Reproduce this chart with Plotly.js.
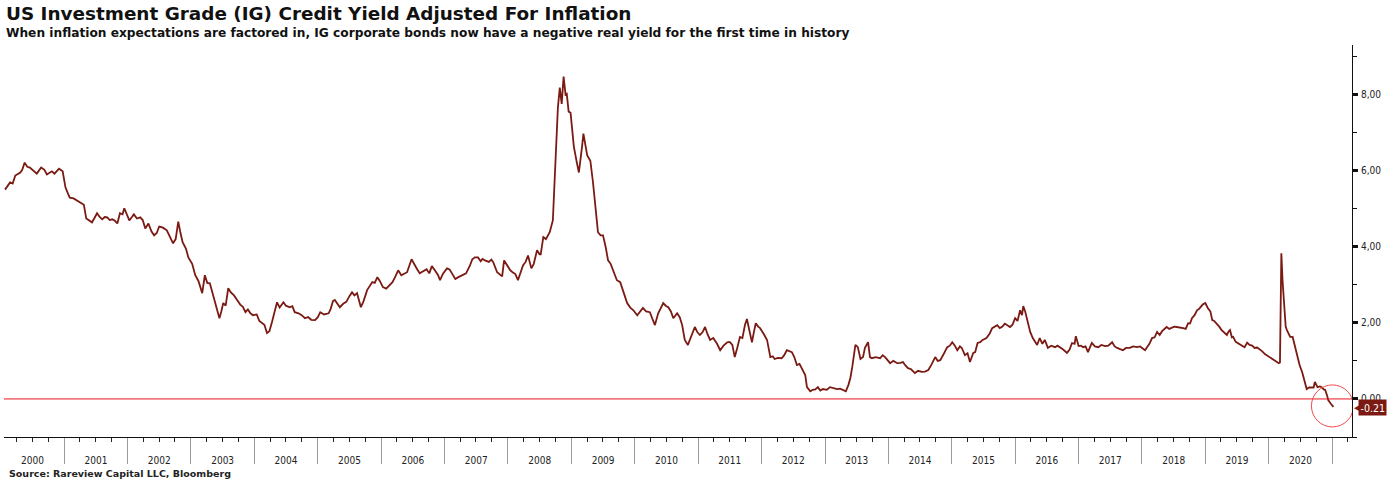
<!DOCTYPE html>
<html>
<head>
<meta charset="utf-8">
<script src="https://cdn.plot.ly/plotly-3.0.1.min.js"></script>
<style>
  html, body { margin: 0; padding: 0; background: #fff; }
  #chart { width: 1397px; height: 481px; }
</style>
</head>
<body>
<div id="chart"></div>
<script>
// weekly-ish readings, date as decimal year
var years = [
  2000.07,2000.15,2000.19,2000.23,2000.31,2000.34,2000.38,2000.42,2000.46,2000.52,2000.57,2000.64,2000.69,2000.73,2000.81,2000.85,2000.92,2000.98,
  2001.02,2001.06,2001.09,2001.15,2001.2,2001.28,2001.31,2001.35,2001.4,2001.44,2001.48,2001.52,2001.56,2001.6,2001.64,2001.68,2001.72,2001.76,2001.8,2001.84,2001.88,2001.92,2001.95,2001.99,
  2002.03,2002.07,2002.1,2002.15,2002.2,2002.24,2002.28,2002.33,2002.38,2002.42,2002.46,2002.5,2002.56,2002.62,2002.67,2002.72,2002.76,2002.8,2002.83,2002.87,2002.92,2002.96,
  2003.02,2003.07,2003.12,2003.18,2003.22,2003.26,2003.3,2003.34,2003.38,2003.42,2003.45,2003.48,2003.51,2003.55,2003.59,2003.63,2003.68,2003.73,2003.78,2003.82,2003.86,2003.9,2003.94,2003.98,
  2004.04,2004.08,2004.12,2004.16,2004.2,2004.24,2004.28,2004.32,2004.36,2004.4,2004.46,2004.5,2004.56,2004.6,2004.64,2004.7,2004.75,2004.8,2004.85,2004.9,2004.96,
  2005.0,2005.04,2005.1,2005.17,2005.2,2005.24,2005.27,2005.31,2005.35,2005.4,2005.45,2005.5,2005.54,2005.58,2005.62,2005.68,2005.72,2005.78,2005.82,2005.86,2005.9,2005.94,2005.98,
  2006.03,2006.08,2006.13,2006.18,2006.22,2006.27,2006.32,2006.37,2006.41,2006.48,2006.53,2006.57,2006.61,2006.66,2006.72,2006.76,2006.8,2006.86,2006.9,2006.93,2006.98,
  2007.04,2007.08,2007.12,2007.17,2007.22,2007.29,2007.34,2007.4,2007.44,2007.48,2007.53,2007.57,2007.6,2007.64,2007.7,2007.74,2007.77,2007.83,2007.87,2007.91,2007.94,2007.98,
  2008.04,2008.08,2008.12,2008.16,2008.2,2008.24,2008.28,2008.32,2008.37,2008.41,2008.46,2008.5,2008.52,2008.56,2008.6,2008.66,2008.71,2008.73,2008.76,2008.79,2008.82,2008.85,2008.88,2008.91,2008.93,2008.96,2008.99,
  2009.04,2009.09,2009.12,2009.17,2009.19,2009.25,2009.3,2009.34,2009.38,2009.42,2009.46,2009.5,2009.54,2009.58,2009.62,2009.66,2009.72,2009.77,2009.82,2009.88,2009.93,2009.98,
  2010.04,2010.09,2010.13,2010.18,2010.24,2010.28,2010.32,2010.37,2010.41,2010.45,2010.49,2010.53,2010.57,2010.61,2010.67,2010.71,2010.75,2010.79,2010.84,2010.9,2010.95,2010.99,
  2011.03,2011.07,2011.11,2011.15,2011.19,2011.24,2011.3,2011.35,2011.4,2011.46,2011.5,2011.54,2011.58,2011.62,2011.66,2011.7,2011.74,2011.77,2011.8,2011.85,2011.88,2011.91,2011.95,2011.98,
  2012.04,2012.09,2012.14,2012.18,2012.21,2012.26,2012.32,2012.36,2012.4,2012.44,2012.48,2012.52,2012.56,2012.6,2012.64,2012.69,2012.72,2012.77,2012.81,2012.85,2012.89,2012.93,2012.97,
  2013.03,2013.08,2013.14,2013.19,2013.24,2013.29,2013.33,2013.37,2013.4,2013.43,2013.48,2013.52,2013.56,2013.6,2013.63,2013.68,2013.71,2013.74,2013.8,2013.87,2013.91,2013.95,
  2014.03,2014.08,2014.14,2014.19,2014.23,2014.27,2014.31,2014.36,2014.42,2014.47,2014.53,2014.58,2014.63,2014.68,2014.74,2014.78,2014.82,2014.88,2014.93,2014.97,
  2015.01,2015.05,2015.09,2015.13,2015.16,2015.21,2015.25,2015.29,2015.34,2015.37,2015.41,2015.45,2015.49,2015.55,2015.6,2015.64,2015.68,2015.72,2015.76,2015.8,2015.84,2015.87,2015.92,2015.96,
  2016.0,2016.04,2016.08,2016.11,2016.13,2016.16,2016.19,2016.24,2016.28,2016.35,2016.39,2016.43,2016.47,2016.52,2016.57,2016.63,2016.67,2016.71,2016.76,2016.82,2016.86,2016.9,2016.94,2016.96,
  2017.0,2017.04,2017.07,2017.11,2017.15,2017.21,2017.26,2017.31,2017.36,2017.42,2017.47,2017.53,2017.57,2017.61,2017.66,2017.7,2017.75,2017.81,2017.86,2017.92,2017.97,
  2018.02,2018.05,2018.08,2018.12,2018.16,2018.2,2018.24,2018.28,2018.32,2018.36,2018.39,2018.43,2018.47,2018.51,2018.55,2018.6,2018.65,2018.69,2018.73,2018.76,2018.79,2018.83,2018.87,2018.9,2018.93,2018.96,
  2019.0,2019.04,2019.08,2019.11,2019.14,2019.18,2019.22,2019.26,2019.3,2019.34,2019.37,2019.39,2019.42,2019.44,2019.48,2019.51,2019.56,2019.62,2019.66,2019.7,2019.74,2019.78,2019.82,2019.86,2019.9,2019.94,2019.97,
  2020.01,2020.05,2020.09,2020.13,2020.16,2020.18,2020.19,2020.2,2020.22,2020.25,2020.27,2020.29,2020.32,2020.34,2020.38,2020.42,2020.45,2020.49,2020.53,2020.57,2020.6,2020.64,2020.68,2020.71,2020.73,2020.77,2020.81,2020.84,2020.87,2020.89,2020.92,2020.94,2020.98,
  2021.01,2021.02
];

var realYield = [
  5.50,5.69,5.66,5.87,5.95,6.02,6.21,6.10,6.08,6.00,5.92,6.08,6.02,5.90,5.98,5.92,6.05,5.98,
  5.56,5.40,5.29,5.27,5.22,5.14,5.10,4.74,4.68,4.64,4.76,4.88,4.78,4.72,4.78,4.77,4.70,4.72,4.68,4.61,4.88,4.85,5.01,4.86,
  4.69,4.78,4.85,4.74,4.77,4.70,4.48,4.61,4.40,4.30,4.36,4.53,4.50,4.43,4.25,4.09,4.20,4.66,4.40,4.12,3.95,3.72,
  3.55,3.25,3.10,2.78,3.25,3.05,3.04,2.80,2.52,2.35,2.12,2.30,2.52,2.45,2.91,2.80,2.72,2.60,2.48,2.42,2.28,2.35,2.25,2.20,
  2.22,2.05,1.99,1.95,1.73,1.78,2.02,2.25,2.54,2.40,2.54,2.45,2.41,2.44,2.28,2.25,2.20,2.12,2.15,2.08,2.07,
  2.15,2.28,2.22,2.25,2.35,2.57,2.60,2.50,2.41,2.50,2.55,2.70,2.80,2.72,2.78,2.41,2.55,2.86,2.95,3.07,3.05,3.20,3.10,
  2.94,2.90,3.00,3.07,3.20,3.38,3.25,3.30,3.33,3.67,3.50,3.40,3.30,3.35,3.41,3.30,3.49,3.35,3.25,3.12,3.30,
  3.43,3.40,3.30,3.15,3.20,3.25,3.30,3.50,3.67,3.72,3.72,3.62,3.68,3.64,3.60,3.66,3.59,3.33,3.28,3.22,3.64,3.55,
  3.38,3.32,3.28,3.12,3.35,3.51,3.60,3.77,3.43,3.55,3.91,3.80,3.80,4.25,4.20,4.38,4.69,5.40,6.26,7.65,8.18,7.75,8.47,8.00,8.02,7.55,7.52,
  6.63,6.19,5.95,6.66,6.97,6.40,6.26,5.70,5.14,4.38,4.30,4.30,4.00,3.64,3.55,3.38,3.12,3.07,2.80,2.52,2.40,2.33,
  2.20,2.30,2.39,2.30,2.28,2.10,1.94,2.25,2.40,2.52,2.45,2.41,2.30,2.12,2.25,2.15,1.94,1.55,1.42,1.68,1.89,1.75,
  1.68,1.75,1.89,1.70,1.55,1.60,1.45,1.28,1.40,1.49,1.50,1.42,1.10,1.35,1.63,1.60,1.95,2.10,1.85,1.49,1.75,1.99,1.90,1.86,
  1.70,1.55,1.10,1.12,1.05,1.08,1.07,1.15,1.28,1.25,1.23,1.10,0.89,0.92,0.81,0.63,0.31,0.20,0.24,0.25,0.31,0.22,0.26,
  0.24,0.31,0.28,0.26,0.27,0.24,0.20,0.37,0.55,0.84,1.42,1.36,1.05,1.10,1.34,1.49,1.10,1.07,1.10,1.07,1.15,1.10,
  0.94,1.00,0.94,0.95,0.97,0.88,0.81,0.78,0.68,0.74,0.71,0.72,0.76,0.90,1.10,1.00,1.02,1.20,1.36,1.40,
  1.49,1.40,1.28,1.38,1.34,1.15,1.20,0.97,1.21,1.23,1.47,1.49,1.55,1.60,1.72,1.86,1.90,1.94,1.86,1.90,1.98,1.94,1.89,1.95,
  2.12,2.05,2.33,2.20,2.44,2.30,2.07,1.76,1.60,1.42,1.60,1.45,1.55,1.34,1.40,1.36,1.40,1.36,1.30,1.21,1.30,1.47,1.45,1.65,
  1.39,1.40,1.36,1.38,1.23,1.47,1.38,1.36,1.42,1.39,1.40,1.49,1.38,1.34,1.30,1.28,1.34,1.34,1.38,1.36,1.38,
  1.31,1.28,1.36,1.45,1.60,1.62,1.76,1.68,1.78,1.85,1.89,1.84,1.86,1.90,1.89,1.88,1.86,1.84,1.99,1.98,2.12,2.20,2.33,2.36,2.41,2.48,
  2.52,2.39,2.30,2.07,2.05,1.99,1.90,1.81,1.75,1.68,1.78,1.81,1.62,1.63,1.50,1.47,1.42,1.36,1.48,1.42,1.40,1.34,1.35,1.31,1.25,1.18,1.15,
  1.10,1.07,1.02,0.97,0.94,0.96,2.50,3.83,3.10,2.41,1.90,1.81,1.70,1.63,1.63,1.35,1.10,0.89,0.70,0.45,0.26,0.30,0.31,0.30,0.45,0.31,0.33,0.31,0.25,0.24,0.10,-0.03,-0.12,
  -0.18,-0.21
];

function toDate(d) {
  var y = Math.floor(d);
  var ms = Date.UTC(y, 0, 1) + (d - y) * 365.25 * 86400000;
  return new Date(ms).toISOString().slice(0, 10);
}

var dates = years.map(toDate);
var lastDate = dates[dates.length - 1];
var lastVal = realYield[realYield.length - 1];

var lineColor = '#7a1a12';
var fnt = 'DejaVu Sans Condensed, DejaVu Sans, sans-serif';

var trace = {
  x: dates,
  y: realYield,
  type: 'scatter',
  mode: 'lines',
  line: { color: lineColor, width: 1.8 },
  hoverinfo: 'x+y'
};

var layout = {
  width: 1397,
  height: 481,
  margin: { l: 4, r: 45, t: 45, b: 44 },
  paper_bgcolor: '#fff',
  plot_bgcolor: '#fff',
  showlegend: false,
  separators: ', ',
  xaxis: {
    type: 'date',
    range: ['2000-01-20', '2021-04-25'],
    showgrid: false,
    zeroline: false,
    showline: true,
    linecolor: '#111',
    linewidth: 1,
    tick0: '2000-01-01',
    dtick: 'M12',
    tickformat: '%Y',
    ticklabelmode: 'period',
    ticks: 'outside',
    ticklen: 26,
    tickcolor: '#9a9a9a',
    tickwidth: 1,
    ticklabelstandoff: -12,
    tickfont: { family: fnt, size: 10, color: '#222' },
    minor: { dtick: 'M3', ticks: 'outside', ticklen: 4, tickcolor: '#222', tickwidth: 1 }
  },
  yaxis: {
    side: 'right',
    range: [-1.0, 9.3],
    dtick: 2,
    tick0: 0,
    tickformat: '.2f',
    showgrid: false,
    zeroline: false,
    showline: true,
    linecolor: '#111',
    linewidth: 1,
    ticks: 'outside',
    ticklen: 5,
    tickwidth: 3,
    tickcolor: '#111',
    ticklabelstandoff: 1,
    tickfont: { family: fnt, size: 10, color: '#222' },
    minor: { dtick: 1, ticks: 'outside', ticklen: 4, tickcolor: '#111', tickwidth: 1 }
  },
  shapes: [
    {
      type: 'line', xref: 'paper', yref: 'y',
      x0: 0, x1: 1, y0: 0, y1: 0,
      line: { color: '#e8141e', width: 1 }
    },
    {
      type: 'circle', xref: 'x', yref: 'y',
      xsizemode: 'pixel', ysizemode: 'pixel',
      xanchor: lastDate, yanchor: lastVal,
      x0: -22, x1: 20, y0: -20, y1: 22,
      line: { color: '#f04a4a', width: 1 }
    }
  ],
  annotations: [
    {
      xref: 'paper', yref: 'paper', x: 0, y: 1.112, xanchor: 'left', yanchor: 'top', xshift: 0,
      text: '<b>US Investment Grade (IG) Credit Yield Adjusted For Inflation</b>',
      showarrow: false,
      font: { family: 'DejaVu Sans, sans-serif', size: 18.4, color: '#111' }
    },
    {
      xref: 'paper', yref: 'paper', x: 0, y: 1.054, xanchor: 'left', yanchor: 'top', xshift: 0,
      text: '<b>When inflation expectations are factored in, IG corporate bonds now have a negative real yield for the first time in history</b>',
      showarrow: false,
      font: { family: 'DejaVu Sans, sans-serif', size: 12.2, color: '#111' }
    },
    {
      xref: 'paper', yref: 'paper', x: 0, y: -0.074, xanchor: 'left', yanchor: 'top', xshift: 3,
      text: '<b>Source: Rareview Capital LLC, Bloomberg</b>',
      showarrow: false,
      font: { family: 'DejaVu Sans, sans-serif', size: 9.5, color: '#222' }
    },
    {
      xref: 'paper', yref: 'y', x: 1, y: lastVal, xanchor: 'left', yanchor: 'middle', xshift: 0, yshift: -1,
      text: '◀',
      showarrow: false,
      font: { family: fnt, size: 11, color: lineColor }
    },
    {
      xref: 'paper', yref: 'y', x: 1, y: lastVal, xanchor: 'left', yanchor: 'middle', xshift: 6, yshift: -1,
      text: lastVal.toFixed(2),
      showarrow: false,
      bgcolor: lineColor,
      borderpad: 1.5,
      font: { family: fnt, size: 10.5, color: '#fff' }
    }
  ]
};

Plotly.newPlot('chart', [trace], layout, { displayModeBar: false, staticPlot: true });
</script>
</body>
</html>
